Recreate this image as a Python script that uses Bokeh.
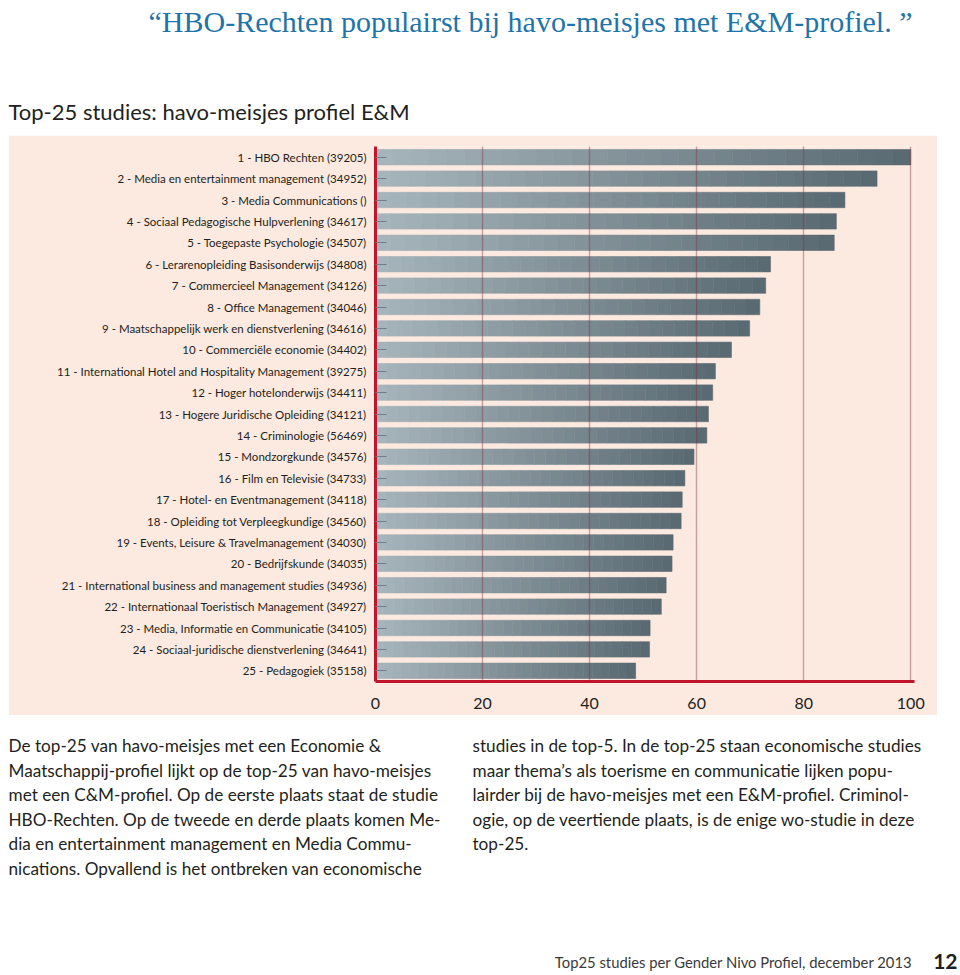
import numpy as np
from bokeh.plotting import figure
from bokeh.models import ColumnDataSource, FactorRange, Range1d, FixedTicker, Label
from bokeh.layouts import column
from bokeh.embed import file_html
from bokeh.resources import INLINE

# ---------------- data ----------------
ranks = list(range(1, 26))
studies = [
    "HBO Rechten", "Media en entertainment management", "Media Communications",
    "Sociaal Pedagogische Hulpverlening", "Toegepaste Psychologie",
    "Lerarenopleiding Basisonderwijs", "Commercieel Management", "Office Management",
    "Maatschappelijk werk en dienstverlening", "Commerciële economie",
    "International Hotel and Hospitality Management", "Hoger hotelonderwijs",
    "Hogere Juridische Opleiding", "Criminologie", "Mondzorgkunde", "Film en Televisie",
    "Hotel- en Eventmanagement", "Opleiding tot Verpleegkundige",
    "Events, Leisure & Travelmanagement", "Bedrijfskunde",
    "International business and management studies",
    "Internationaal Toeristisch Management", "Media, Informatie en Communicatie",
    "Sociaal-juridische dienstverlening", "Pedagogiek",
]
codes = [
    "39205", "34952", "", "34617", "34507", "34808", "34126", "34046", "34616", "34402",
    "39275", "34411", "34121", "56469", "34576", "34733", "34118", "34560", "34030",
    "34035", "34936", "34927", "34105", "34641", "35158",
]
values = [
    100.0, 93.7, 87.7, 86.1, 85.7, 73.8, 72.9, 71.8, 69.9, 66.5,
    63.5, 63.0, 62.2, 61.9, 59.5, 57.8, 57.3, 57.1, 55.6, 55.4,
    54.3, 53.4, 51.3, 51.2, 48.6,
]
x_ticks = [0, 20, 40, 60, 80, 100]

title_text = "\u201cHBO-Rechten populairst bij havo-meisjes met E&M-profiel. \u201d"
subtitle_text = "Top-25 studies: havo-meisjes profiel E&M"
para_left = [
    "De top-25 van havo-meisjes met een Economie &",
    "Maatschappij-profiel lijkt op de top-25 van havo-meisjes",
    "met een C&M-profiel. Op de eerste plaats staat de studie",
    "HBO-Rechten. Op de tweede en derde plaats komen Me-",
    "dia en entertainment management en Media Commu-",
    "nications. Opvallend is het ontbreken van economische",
]
para_right = [
    "studies in de top-5. In de top-25 staan economische studies",
    "maar thema\u2019s als toerisme en communicatie lijken popu-",
    "lairder bij de havo-meisjes met een E&M-profiel. Criminol-",
    "ogie, op de veertiende plaats, is de enige wo-studie in deze",
    "top-25.",
]
footer_text = "Top25 studies per Gender Nivo Profiel, december 2013"
page_number = "12"

# ---------------- styles ----------------
SANS = "Lato"
SERIF = "Liberation Serif"
INK = "#231f20"
PEACH = "#fce9df"
RED = "#c0152c"
LIGHT = np.array([166, 180, 187])
DARK = np.array([90, 106, 114])

labels = [f"{r} - {s} ({c})" for r, s, c in zip(ranks, studies, codes)]

# gradient segments for each bar, derived from the values
K = 30
seg_y, seg_l, seg_r, seg_c = [], [], [], []
for lab, v in zip(labels, values):
    for k in range(K):
        t = k / (K - 1)
        col = (LIGHT * (1 - t) + DARK * t).round().astype(int)
        seg_y.append(lab)
        seg_l.append(v * k / K)
        seg_r.append(v * (k + 1) / K)
        seg_c.append("#%02x%02x%02x" % tuple(col))
src = ColumnDataSource(dict(y=seg_y, left=seg_l, right=seg_r, color=seg_c))


def text_fig(w, h):
    f = figure(width=w, height=h, x_range=Range1d(0, w), y_range=Range1d(h, 0),
               x_axis_type=None, y_axis_type=None, toolbar_location=None,
               output_backend="svg", min_border=0, frame_align=False)
    f.grid.visible = False
    f.outline_line_color = None
    f.background_fill_color = "white"
    f.border_fill_color = "white"
    return f


def add_text(f, x, y, text, size, color=INK, font=SANS, align="left", style="normal"):
    f.add_layout(Label(x=x, y=y, text=text, text_font=font, text_font_size=size,
                       text_color=color, text_baseline="alphabetic", text_align=align,
                       text_font_style=style))


# ---------------- top (page y 0..135) ----------------
top = text_fig(960, 135)
add_text(top, 148, 21, title_text, "30px", color="#1f74a8", font=SERIF)
add_text(top, 8, 111, subtitle_text, "22px")

# ---------------- chart (page x 8..937, y 135..715) ----------------
p = figure(width=929, height=580, y_range=FactorRange(*labels[::-1], range_padding=0),
           x_range=Range1d(0, 100.7), toolbar_location=None, output_backend="svg",
           min_border_left=367, min_border_right=23, min_border_top=11, min_border_bottom=34,
           frame_align=False, margin=(0, 0, 0, 8))
p.background_fill_color = PEACH
p.border_fill_color = PEACH
p.outline_line_color = None

p.hbar(y="y", left="left", right="right", height=0.72, fill_color="color",
       line_color="color", line_width=0.6, source=src)

p.ygrid.visible = False
p.xgrid.ticker = FixedTicker(ticks=x_ticks)
p.xgrid.grid_line_color = "#7a3040"
p.xgrid.grid_line_alpha = 0.4
p.xgrid.grid_line_width = 1.4
p.xgrid.level = "overlay"

p.xaxis.ticker = FixedTicker(ticks=x_ticks)
p.xaxis.axis_line_color = RED
p.xaxis.axis_line_width = 3
p.xaxis.major_tick_line_color = None
p.xaxis.minor_tick_line_color = None
p.xaxis.major_label_text_font = SANS
p.xaxis.major_label_text_font_size = "16px"
p.xaxis.major_label_text_color = INK
p.xaxis.major_label_standoff = 10

p.yaxis.axis_line_color = RED
p.yaxis.axis_line_width = 3
p.yaxis.major_tick_in = 11
p.yaxis.major_tick_out = 0
p.yaxis.major_tick_line_color = "#6f7f87"
p.yaxis.major_tick_line_width = 1
p.yaxis.major_label_text_font = SANS
p.yaxis.major_label_text_font_size = "11.5px"
p.yaxis.major_label_text_color = INK
p.yaxis.major_label_standoff = 9

# ---------------- bottom (page y 715..975) ----------------
bot = text_fig(960, 260)
for i, line in enumerate(para_left):
    add_text(bot, 8, 30 + 24.5 * i, line, "17.2px")
for i, line in enumerate(para_right):
    add_text(bot, 472, 30 + 24.5 * i, line, "17.2px")
add_text(bot, 912, 246, footer_text, "14.8px", color="#3a3a3a", align="right")
add_text(bot, 957, 246, page_number, "21px", align="right", style="bold")

layout = column(top, p, bot, spacing=0)
open("out.html", "w").write(file_html(layout, INLINE))
